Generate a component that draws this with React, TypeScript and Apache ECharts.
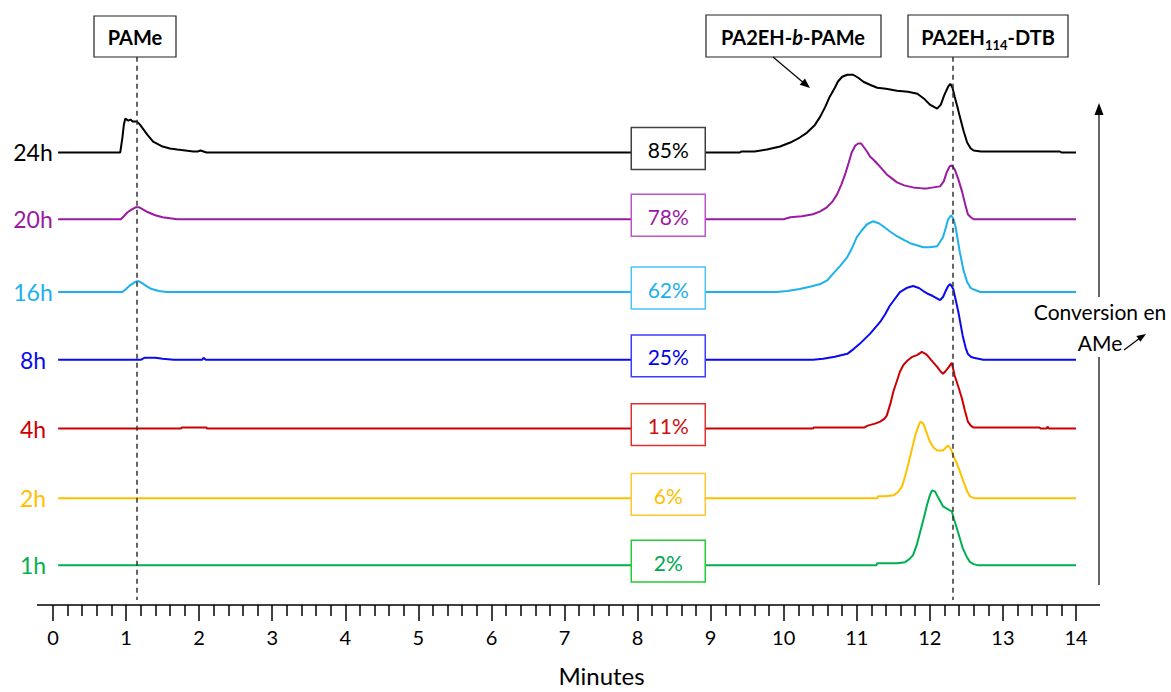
import React, { useEffect, useRef } from "react";
import * as echarts from "echarts";

// ---- data ----
const timeLabels = ["24h", "20h", "16h", "8h", "4h", "2h", "1h"];
const conversions = ["85%", "78%", "62%", "25%", "11%", "6%", "2%"];
const baselineOffsets = [454, 387, 314, 246, 177, 107, 40];
const lineColors = ["#000000", "#9A1AA2", "#1CB0EC", "#0A0AEE", "#CC0000", "#FFC000", "#00B050"];
const boxTextColors = ["#000000", "#9A1AA2", "#1CB0EC", "#0000EE", "#CC1111", "#FFC000", "#00A850"];
const boxBorderColors = ["#404040", "#BB55C5", "#4CC4F2", "#3C3CFF", "#DD3030", "#FFC830", "#22CC33"];
const markerTimes = [1.15, 12.32];
const percentBoxTime = 8.42;
const xMin = 0;
const xMax = 14;

const trace24h = [
  [0.07, 0], [0.92, 0], [0.95, 15], [0.97, 28], [0.99, 34], [1.03, 32], [1.06, 33], [1.09, 31], [1.15, 31],
  [1.19, 28], [1.24, 23], [1.29, 18], [1.37, 11], [1.5, 6], [1.6, 4], [1.7, 3], [1.92, 1], [1.98, 1],
  [2.02, 2], [2.06, 1], [2.1, 0], [9.4, 0], [9.42, 1], [9.6, 1], [9.77, 3], [9.95, 6], [10.09, 10],
  [10.22, 15], [10.32, 20], [10.42, 27], [10.5, 36], [10.57, 46], [10.63, 56], [10.7, 65], [10.74, 71],
  [10.8, 76], [10.87, 78], [10.95, 78], [11.02, 75], [11.09, 71], [11.18, 68], [11.28, 65], [11.4, 64],
  [11.55, 62], [11.7, 61], [11.83, 59], [11.92, 54], [12.0, 48], [12.1, 44], [12.15, 48], [12.2, 58],
  [12.25, 66], [12.28, 69], [12.31, 65], [12.34, 56], [12.38, 45], [12.41, 36], [12.46, 22], [12.51, 10],
  [12.56, 4], [12.6, 2], [12.7, 1], [13.78, 1], [13.8, 0], [14, 0],
];
const trace20h = [
  [0.07, 0], [0.93, 0], [0.97, 3], [1.02, 7], [1.08, 10], [1.13, 12], [1.18, 12], [1.23, 10], [1.3, 7],
  [1.4, 4], [1.5, 2], [1.6, 1], [1.7, 0], [10.0, 0], [10.09, 2], [10.25, 3], [10.4, 5], [10.5, 8],
  [10.59, 12], [10.67, 18], [10.73, 25], [10.79, 35], [10.84, 45], [10.89, 57], [10.93, 67], [10.98, 74],
  [11.02, 76], [11.06, 76], [11.09, 73], [11.14, 68], [11.18, 63], [11.24, 59], [11.29, 55], [11.35, 50],
  [11.41, 45], [11.48, 41], [11.55, 37], [11.65, 34], [11.77, 32], [11.9, 31], [11.96, 31], [12.05, 32],
  [12.14, 33], [12.19, 38], [12.23, 47], [12.27, 53], [12.3, 54], [12.34, 50], [12.39, 40], [12.44, 28],
  [12.48, 16], [12.52, 5], [12.56, 2], [12.6, 0], [14, 0],
];
const trace16h = [
  [0.07, 0], [0.95, 0], [1.0, 3], [1.06, 7], [1.12, 10], [1.17, 11], [1.22, 9], [1.28, 6], [1.35, 3],
  [1.45, 1], [1.55, 0], [9.9, 0], [10.05, 1], [10.22, 3], [10.4, 6], [10.5, 8], [10.6, 12], [10.67, 18],
  [10.77, 26], [10.87, 35], [10.94, 45], [11.0, 55], [11.07, 62], [11.14, 68], [11.22, 71], [11.3, 69],
  [11.36, 66], [11.45, 61], [11.55, 56], [11.65, 52], [11.73, 49], [11.82, 47], [11.91, 45], [12.0, 45],
  [12.1, 46], [12.18, 55], [12.22, 65], [12.25, 73], [12.29, 77], [12.32, 74], [12.35, 66], [12.41, 40],
  [12.46, 22], [12.51, 10], [12.56, 4], [12.62, 2], [12.69, 0], [14, 0],
];
const trace8h = [
  [0.07, 0], [1.2, 0], [1.25, 2], [1.4, 2], [1.5, 1], [1.65, 0], [2.04, 0], [2.06, 2], [2.09, 0],
  [10.4, 0], [10.54, 1], [10.7, 3], [10.87, 6], [10.96, 11], [11.04, 16], [11.11, 21], [11.18, 26],
  [11.25, 32], [11.32, 38], [11.39, 46], [11.45, 54], [11.52, 61], [11.59, 68], [11.68, 72], [11.77, 74],
  [11.85, 72], [11.91, 69], [11.98, 66], [12.04, 64], [12.14, 60], [12.18, 63], [12.21, 68], [12.25, 74],
  [12.28, 76], [12.32, 71], [12.36, 58], [12.39, 48], [12.45, 24], [12.49, 12], [12.52, 6], [12.56, 3],
  [12.6, 2], [12.73, 0], [14, 0],
];
const trace4h = [
  [0.07, 0], [1.75, 0], [1.76, 1], [2.1, 1], [2.11, 0], [10.4, 0], [10.41, 1], [11.1, 1], [11.15, 3],
  [11.25, 5], [11.32, 7], [11.38, 10], [11.41, 13], [11.46, 25], [11.5, 37], [11.55, 48], [11.59, 57],
  [11.64, 64], [11.69, 68], [11.76, 72], [11.83, 74], [11.89, 77], [11.94, 75], [11.97, 73], [12.04, 67],
  [12.1, 62], [12.15, 57], [12.18, 55], [12.22, 58], [12.25, 61], [12.3, 66], [12.34, 53], [12.39, 42],
  [12.44, 30], [12.48, 18], [12.52, 7], [12.56, 3], [12.6, 1], [12.7, 1], [13.5, 1], [13.52, 0],
  [13.6, 0], [13.61, 2], [13.63, 0], [14, 0],
];
const trace2h = [
  [0.07, 0], [11.28, 0], [11.29, 2], [11.4, 2], [11.5, 3], [11.56, 6], [11.62, 12], [11.66, 22],
  [11.7, 33], [11.75, 48], [11.8, 63], [11.84, 72], [11.87, 77], [11.91, 75], [11.95, 67], [12.0, 57],
  [12.05, 51], [12.1, 48], [12.18, 48], [12.22, 51], [12.25, 53], [12.29, 49], [12.32, 43], [12.37, 35],
  [12.41, 27], [12.46, 17], [12.51, 7], [12.55, 2], [12.58, 1], [12.62, 0], [14, 0],
];
const trace1h = [
  [0.07, 0], [11.27, 0], [11.28, 2], [11.55, 2], [11.66, 3], [11.72, 6], [11.77, 10], [11.82, 20],
  [11.87, 34], [11.92, 48], [11.96, 60], [12.0, 70], [12.03, 75], [12.07, 74], [12.12, 67], [12.18, 59],
  [12.25, 56], [12.3, 54], [12.33, 46], [12.37, 37], [12.41, 27], [12.45, 17], [12.5, 9], [12.55, 3],
  [12.6, 1], [12.65, 0], [14, 0],
];
const traces = [trace24h, trace20h, trace16h, trace8h, trace4h, trace2h, trace1h];

const FONT = "Lato, 'Open Sans', sans-serif";

function measure(text: string, font: string): number {
  const c = document.createElement("canvas").getContext("2d");
  if (!c) return text.length * 10;
  c.font = font;
  return c.measureText(text).width;
}

export default function App() {
  const ref = useRef<HTMLDivElement>(null);

  useEffect(() => {
    document.body.style.margin = "0";
    if (!ref.current) return;
    const chart = echarts.init(ref.current, null, { renderer: "svg" });

    const series: any[] = traces.map((tr, i) => ({
      type: "line",
      name: timeLabels[i],
      showSymbol: false,
      symbol: "none",
      silent: true,
      lineStyle: { color: lineColors[i], width: 2 },
      data: tr.map(([x, h]) => [x, baselineOffsets[i] + h]),
      z: 3,
    }));
    series.push({
      type: "line",
      data: [],
      markLine: {
        silent: true,
        symbol: "none",
        label: { show: false },
        lineStyle: { color: "#333", type: [5, 4], width: 1.5 },
        data: markerTimes.map((t) => [{ coord: [t, 550] }, { coord: [t, 5] }]),
      },
      z: 4,
    });

    chart.setOption({
      animation: false,
      backgroundColor: "#fff",
      grid: { left: 53, right: 95, top: 0, bottom: 85 },
      xAxis: {
        type: "value",
        min: xMin,
        max: xMax,
        interval: 1,
        name: "Minutes",
        nameLocation: "middle",
        nameGap: 58,
        nameTextStyle: { fontFamily: FONT, fontSize: 24, color: "#000", padding: [0, 0, 0, 74] },
        axisLine: { show: false },
        axisTick: { show: true, length: 16, lineStyle: { color: "#000", width: 1.5 } },
        minorTick: { show: true, splitNumber: 5, length: 11, lineStyle: { color: "#000", width: 1.5 } },
        axisLabel: { fontFamily: FONT, fontSize: 20, color: "#000", margin: 22 },
        splitLine: { show: false },
      },
      yAxis: { type: "value", min: 0, max: 607, show: false },
      series,
    });

    const toPx = (x: number, y: number) => chart.convertToPixel({ gridIndex: 0 }, [x, y]) as number[];
    const g: any[] = [];
    const axisY = toPx(0, 0)[1];
    g.push({ type: "line", z: 50, shape: { x1: 37, y1: axisY, x2: 1100, y2: axisY }, style: { stroke: "#000", lineWidth: 1.5 } });

    traces.forEach((_, i) => {
      const [, by] = toPx(0, baselineOffsets[i]);
      g.push({
        type: "text", z: 60, x: 33, y: by,
        style: { text: timeLabels[i], fill: lineColors[i], fontSize: 23, fontFamily: FONT, align: "center", verticalAlign: "middle" },
      });
      const cx = toPx(percentBoxTime, 0)[0];
      const top = toPx(0, baselineOffsets[i] + 25)[1];
      const bot = toPx(0, baselineOffsets[i] - 17)[1];
      g.push({
        type: "rect", z: 60,
        shape: { x: cx - 37, y: top, width: 74, height: bot - top },
        style: { fill: "#fff", stroke: boxBorderColors[i], lineWidth: 1.5 },
      });
      g.push({
        type: "text", z: 61, x: cx, y: (top + bot) / 2 + 1,
        style: { text: conversions[i], fill: boxTextColors[i], fontSize: 21, fontFamily: FONT, align: "center", verticalAlign: "middle" },
      });
    });

    // annotation boxes
    const boxStyle = { fill: "#fff", stroke: "#222", lineWidth: 1.2 };
    g.push({ type: "rect", z: 70, shape: { x: 94, y: 16, width: 82, height: 41 }, style: boxStyle });
    g.push({
      type: "text", z: 71, x: 135, y: 37,
      style: { text: "PAMe", fill: "#000", fontSize: 20, fontWeight: "bold", fontFamily: FONT, align: "center", verticalAlign: "middle" },
    });
    g.push({ type: "rect", z: 70, shape: { x: 706, y: 15, width: 175, height: 42 }, style: boxStyle });
    g.push({
      type: "text", z: 71, x: 793, y: 37,
      style: {
        text: "{a|PA2EH-}{i|b}{a|-PAMe}", align: "center", verticalAlign: "middle",
        rich: {
          a: { fontSize: 20, fontWeight: "bold", fontFamily: FONT, fill: "#000" },
          i: { fontSize: 20, fontWeight: "bold", fontStyle: "italic", fontFamily: FONT, fill: "#000" },
        },
      },
    });
    g.push({ type: "rect", z: 70, shape: { x: 908, y: 15, width: 160, height: 42 }, style: boxStyle });
    {
      const bigFont = "bold 20px Lato";
      const smallFont = "bold 13px Lato";
      const w1 = measure("PA2EH", bigFont);
      const w2 = measure("114", smallFont);
      const w3 = measure("-DTB", bigFont);
      const x0 = 988 - (w1 + w2 + w3) / 2;
      g.push({ type: "text", z: 71, x: x0, y: 37, style: { text: "PA2EH", fill: "#000", fontSize: 20, fontWeight: "bold", fontFamily: FONT, align: "left", verticalAlign: "middle" } });
      g.push({ type: "text", z: 71, x: x0 + w1, y: 45, style: { text: "114", fill: "#000", fontSize: 13, fontWeight: "bold", fontFamily: FONT, align: "left", verticalAlign: "middle" } });
      g.push({ type: "text", z: 71, x: x0 + w1 + w2, y: 37, style: { text: "-DTB", fill: "#000", fontSize: 20, fontWeight: "bold", fontFamily: FONT, align: "left", verticalAlign: "middle" } });
    }
    // arrow from PA2EH-b-PAMe box
    g.push({ type: "line", z: 70, shape: { x1: 773, y1: 57, x2: 805, y2: 84 }, style: { stroke: "#000", lineWidth: 1.2 } });
    g.push({ type: "polygon", z: 70, shape: { points: [[810, 88], [799.7, 84.7], [804.9, 78.5]] }, style: { fill: "#000" } });

    // vertical conversion arrow
    g.push({ type: "line", z: 70, shape: { x1: 1099, y1: 585, x2: 1099, y2: 357 }, style: { stroke: "#000", lineWidth: 1.2 } });
    g.push({ type: "line", z: 70, shape: { x1: 1099, y1: 297, x2: 1099, y2: 112 }, style: { stroke: "#000", lineWidth: 1.2 } });
    g.push({ type: "polygon", z: 70, shape: { points: [[1099, 103], [1094.5, 115], [1103.5, 115]] }, style: { fill: "#000" } });
    g.push({
      type: "text", z: 71, x: 1100, y: 311,
      style: { text: "Conversion en", fill: "#000", fontSize: 21, fontFamily: FONT, align: "center", verticalAlign: "middle" },
    });
    g.push({
      type: "text", z: 71, x: 1100, y: 342,
      style: { text: "AMe", fill: "#000", fontSize: 21, fontFamily: FONT, align: "center", verticalAlign: "middle" },
    });
    g.push({ type: "line", z: 70, shape: { x1: 1124, y1: 350, x2: 1140, y2: 338 }, style: { stroke: "#000", lineWidth: 1.2 } });
    g.push({ type: "polygon", z: 70, shape: { points: [[1146, 334], [1136.4, 336], [1140.4, 341.8]] }, style: { fill: "#000" } });

    chart.setOption({ graphic: g });

    return () => chart.dispose();
  }, []);

  return <div ref={ref} style={{ width: 1171, height: 692 }} />;
}
